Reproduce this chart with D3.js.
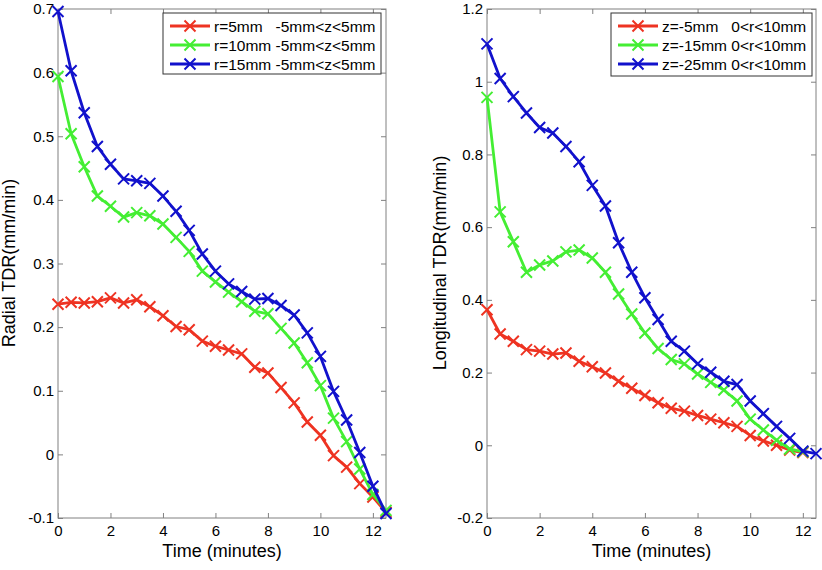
<!DOCTYPE html>
<html><head><meta charset="utf-8">
<script src="https://cdn.jsdelivr.net/npm/d3@7"></script>
<style>
body{margin:0;background:#fff}
svg{display:block;font-family:"Liberation Sans",Arial,Helvetica,sans-serif}
</style>
</head><body>
<svg id="chart" width="822" height="570"></svg>
<script>
// ---------- data ----------
const times = [0,0.5,1,1.5,2,2.5,3,3.5,4,4.5,5,5.5,6,6.5,7,7.5,8,8.5,9,9.5,10,10.5,11,11.5,12,12.5];

// Left panel: Radial TDR
const radialR5  = [0.236,0.239,0.238,0.240,0.246,0.238,0.243,0.232,0.218,0.201,0.196,0.178,0.170,0.164,0.158,0.137,0.128,0.105,0.081,0.051,0.030,-0.002,-0.020,-0.046,-0.067,-0.091];
const radialR10 = [0.594,0.504,0.452,0.406,0.390,0.373,0.380,0.375,0.362,0.341,0.319,0.288,0.271,0.255,0.240,0.225,0.221,0.198,0.175,0.144,0.108,0.057,0.020,-0.023,-0.063,-0.088];
const radialR15 = [0.696,0.603,0.537,0.484,0.456,0.433,0.430,0.426,0.406,0.382,0.352,0.315,0.288,0.268,0.256,0.244,0.245,0.234,0.219,0.191,0.154,0.099,0.054,0.003,-0.050,-0.093];

// Right panel: Longitudinal TDR
const longZ5  = [0.373,0.306,0.286,0.263,0.259,0.251,0.254,0.231,0.216,0.199,0.176,0.157,0.137,0.117,0.102,0.094,0.082,0.072,0.062,0.052,0.027,0.012,0.000,-0.013,-0.020];
const longZ15 = [0.957,0.642,0.560,0.476,0.496,0.507,0.532,0.537,0.515,0.476,0.416,0.361,0.309,0.266,0.236,0.224,0.196,0.173,0.152,0.122,0.072,0.042,0.014,-0.010,-0.018];
const longZ25 = [1.104,1.009,0.959,0.914,0.874,0.859,0.822,0.780,0.715,0.658,0.557,0.476,0.406,0.346,0.286,0.259,0.224,0.201,0.176,0.167,0.122,0.087,0.052,0.019,-0.016,-0.023];

const xTicks = [0,2,4,6,8,10,12];
const xTickLabels = ["0","2","4","6","8","10","12"];
const leftYTicks = [-0.1,0,0.1,0.2,0.3,0.4,0.5,0.6,0.7];
const leftYTickLabels = ["-0.1","0","0.1","0.2","0.3","0.4","0.5","0.6","0.7"];
const rightYTicks = [-0.2,0,0.2,0.4,0.6,0.8,1,1.2];
const rightYTickLabels = ["-0.2","0","0.2","0.4","0.6","0.8","1","1.2"];

const leftNames  = ["r=5mm   -5mm<z<5mm","r=10mm -5mm<z<5mm","r=15mm -5mm<z<5mm"];
const rightNames = ["z=-5mm   0<r<10mm","z=-15mm 0<r<10mm","z=-25mm 0<r<10mm"];
const colors = ["#ee3322","#44ee33","#1111cc"];

const xLabel = "Time (minutes)";
const leftYLabel = "Radial TDR(mm/min)";
const rightYLabel = "Longitudinal TDR(mm/min)";

// ---------- drawing ----------
const svg = d3.select("#chart");

function panel(cfg){
  const x = d3.scaleLinear().domain([0,12.5]).range([cfg.left, cfg.right]);
  const y = d3.scaleLinear().domain(cfg.yDomain).range([cfg.bottom, cfg.top]);
  const g = svg.append("g");
  const axisColor = "#808080";

  g.append("rect").attr("x",cfg.left).attr("y",cfg.top)
    .attr("width",cfg.right-cfg.left).attr("height",cfg.bottom-cfg.top)
    .attr("fill","none").attr("stroke",axisColor).attr("stroke-width",1);

  const xl = d => xTickLabels[xTicks.indexOf(d)];
  const yl = d => cfg.yLabels[cfg.yTicks.indexOf(d)];

  const styleAxis = sel => {
    sel.select(".domain").remove();
    sel.selectAll(".tick line").attr("stroke",axisColor);
    sel.selectAll(".tick text").attr("fill","#000").style("font-size","15px")
      .style("font-family","'Liberation Sans',Arial,sans-serif");
  };

  g.append("g").attr("transform",`translate(0,${cfg.bottom})`)
    .call(d3.axisBottom(x).tickValues(xTicks).tickFormat(xl).tickSizeInner(-5).tickSizeOuter(0).tickPadding(7))
    .call(styleAxis);
  g.append("g").attr("transform",`translate(0,${cfg.top})`)
    .call(d3.axisTop(x).tickValues(xTicks).tickFormat("").tickSizeInner(-5).tickSizeOuter(0))
    .call(styleAxis);
  g.append("g").attr("transform",`translate(${cfg.left},0)`)
    .call(d3.axisLeft(y).tickValues(cfg.yTicks).tickFormat(yl).tickSizeInner(-5).tickSizeOuter(0).tickPadding(4))
    .call(styleAxis);
  g.append("g").attr("transform",`translate(${cfg.right},0)`)
    .call(d3.axisRight(y).tickValues(cfg.yTicks).tickFormat("").tickSizeInner(-5).tickSizeOuter(0))
    .call(styleAxis);

  g.append("text").attr("x",(cfg.left+cfg.right)/2).attr("y",557)
    .attr("text-anchor","middle").style("font-size","18px").attr("fill","#000").text(xLabel);
  g.append("text").attr("transform",`translate(${cfg.yLabelX},263) rotate(-90)`)
    .attr("dy","0.35em").attr("text-anchor","middle").style("font-size","18px").attr("fill","#000").text(cfg.yTitle);

  const line = d3.line().x(d=>x(d[0])).y(d=>y(d[1]));
  const mk = "M-5.5,-5.5L5.5,5.5M-5.5,5.5L5.5,-5.5";
  cfg.series.forEach((vals,i)=>{
    const pts = vals.map((v,j)=>[times[j],v]);
    g.append("path").datum(pts).attr("d",line).attr("fill","none")
      .attr("stroke",colors[i]).attr("stroke-width",2.8).attr("stroke-linejoin","round");
    g.append("g").selectAll("path").data(pts).join("path")
      .attr("transform",d=>`translate(${x(d[0])},${y(d[1])})`)
      .attr("d",mk).attr("stroke",colors[i]).attr("stroke-width",2).attr("fill","none");
  });

  const L = cfg.legend;
  g.append("rect").attr("x",L.x).attr("y",L.y).attr("width",L.w).attr("height",L.h)
    .attr("fill","#fff").attr("stroke","#333").attr("stroke-width",1);
  cfg.names.forEach((nm,i)=>{
    const cy = L.y + 13 + i*19;
    g.append("line").attr("x1",L.x+7).attr("x2",L.x+47).attr("y1",cy).attr("y2",cy)
      .attr("stroke",colors[i]).attr("stroke-width",2.8);
    g.append("path").attr("transform",`translate(${L.x+27},${cy})`).attr("d",mk)
      .attr("stroke",colors[i]).attr("stroke-width",2).attr("fill","none");
    g.append("text").attr("x",L.x+51).attr("y",cy).attr("dy","0.36em")
      .style("font-size","15.5px").style("white-space","pre").attr("xml:space","preserve")
      .attr("fill","#000").text(nm);
  });
}

panel({left:58,right:386,top:9,bottom:518,yDomain:[-0.1,0.7],yTicks:leftYTicks,yLabels:leftYTickLabels,
  yTitle:leftYLabel,yLabelX:9,series:[radialR5,radialR10,radialR15],names:leftNames,
  legend:{x:163,y:13,w:218,h:61}});
panel({left:487,right:816,top:9,bottom:518,yDomain:[-0.2,1.2],yTicks:rightYTicks,yLabels:rightYTickLabels,
  yTitle:rightYLabel,yLabelX:440,series:[longZ5,longZ15,longZ25],names:rightNames,
  legend:{x:611,y:13,w:201,h:63}});
</script>
</body></html>
